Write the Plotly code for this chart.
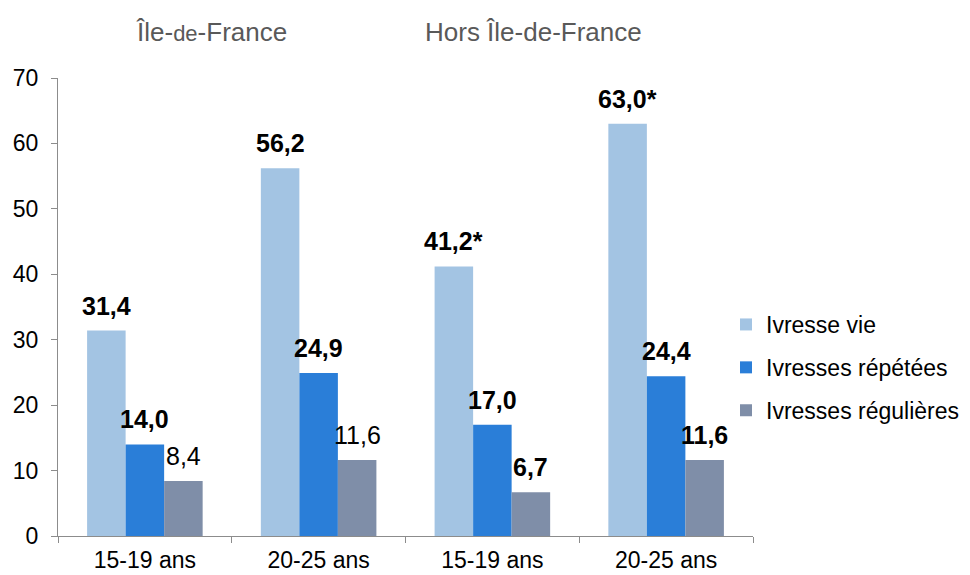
import plotly.graph_objects as go

categories = ["IDF 15-19", "IDF 20-25", "HIDF 15-19", "HIDF 20-25"]
tick_labels = ["15-19 ans", "20-25 ans", "15-19 ans", "20-25 ans"]
series_names = ["Ivresse vie", "Ivresses répétées", "Ivresses régulières"]
ivresse_vie = [31.4, 56.2, 41.2, 63.0]
ivresses_repetees = [14.0, 24.9, 17.0, 24.4]
ivresses_regulieres = [8.4, 11.6, 6.7, 11.6]
stars = [["", "", "*", "*"], ["", "", "", ""], ["", "", "", ""]]
bold = [[True, True, True, True], [True, True, True, True], [False, False, True, True]]
colors = ["#a3c4e3", "#2a7ed8", "#7f8ea8"]
group_titles = ["Île-<span style='font-size:22px'>de</span>-France", "Hors Île-de-France"]

FONT = "Liberation Sans, Arial, sans-serif"
# page body has an 8px margin, so the figure is drawn 8px smaller and offset
OFF = 8
W, H = 970 - OFF, 575 - OFF
ML, MT = 58 - OFF, 78 - OFF
MR = W - (753 - OFF)
MB = H - (536 - OFF)
PW = W - ML - MR
PH = H - MT - MB
BARGAP = 0.335
bar_px = PW / len(categories) * (1 - BARGAP) / 3

def fmt(v, star, b):
    s = f"{v:.1f}".replace(".", ",") + star
    return f"<b>{s}</b>" if b else s

fig = go.Figure()
all_series = [ivresse_vie, ivresses_repetees, ivresses_regulieres]
for i, (name, vals) in enumerate(zip(series_names, all_series)):
    fig.add_trace(go.Bar(
        x=categories, y=vals, name=name,
        marker=dict(color=colors[i], line=dict(width=0)),
        legendgroup=f"g{i}",
    ))
    for j, v in enumerate(vals):
        fig.add_annotation(
            x=categories[j], y=v, xref="x", yref="y",
            text=fmt(v, stars[i][j], bold[i][j]),
            showarrow=False, xanchor="center", yanchor="bottom",
            xshift=(i - 1) * bar_px, yshift=9,
            font=dict(family=FONT, size=25, color="#000000"),
        )

fig.update_layout(
    width=W, height=H,
    margin=dict(l=ML, r=MR, t=MT, b=MB, autoexpand=False),
    paper_bgcolor="white", plot_bgcolor="white",
    barmode="group", bargap=BARGAP, bargroupgap=0,
    font=dict(family=FONT, color="#000000"),
    showlegend=True,
    legend=dict(
        xref="container", yref="container", x=718 / W, y=1 - 295 / H,
        xanchor="left", yanchor="top",
        font=dict(family=FONT, size=23, color="#000000"),
        traceorder="grouped", tracegroupgap=10,
        itemwidth=30, bgcolor="rgba(0,0,0,0)",
    ),
    xaxis=dict(
        type="category",
        tickmode="array", tickvals=categories, ticktext=tick_labels,
        tickson="boundaries", ticks="outside", ticklen=6, tickcolor="#8c8c8c",
        showline=True, linecolor="#8c8c8c", linewidth=1,
        tickfont=dict(family=FONT, size=23, color="#000000"),
        showgrid=False, automargin=False,
        ticklabelstandoff=3,
    ),
    yaxis=dict(
        range=[0, 70], tickvals=[0, 10, 20, 30, 40, 50, 60, 70],
        ticks="outside", ticklen=6, tickcolor="#8c8c8c",
        showline=True, linecolor="#8c8c8c", linewidth=1,
        tickfont=dict(family=FONT, size=23, color="#000000"),
        showgrid=False, zeroline=False, automargin=False,
        ticklabelstandoff=8,
    ),
)

for title, xc in zip(group_titles, [211.5, 533]):
    fig.add_annotation(
        text=title, xref="paper", yref="paper",
        x=(xc - 58) / PW, y=1 + (78 - 32) / PH,
        xanchor="center", yanchor="middle", showarrow=False,
        font=dict(family=FONT, size=26, color="#595959"),
    )

fig.write_html("out.html")
